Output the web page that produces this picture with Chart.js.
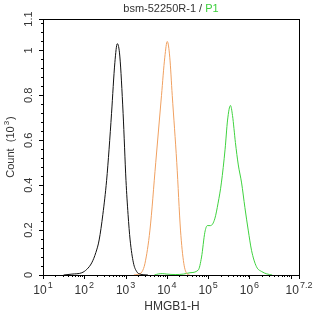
<!DOCTYPE html>
<html>
<head>
<meta charset="utf-8">
<script src="https://cdn.jsdelivr.net/npm/chart.js@4/dist/chart.umd.min.js"></script>
<style>
  html, body { margin: 0; padding: 0; background: #fff; }
  #wrap { width: 314px; height: 317px; }
</style>
</head>
<body>
<div id="wrap"><canvas id="histo"></canvas></div>
<script>
// x values are log10 of HMGB1-H intensity, y values are Count (10^3)
const blackX = [1.5, 1.7, 1.94, 2.06, 2.18, 2.28, 2.36, 2.45, 2.54, 2.6, 2.66, 2.74, 2.8, 2.86, 2.94, 3.01, 3.06, 3.11, 3.19, 3.27, 3.35, 3.54];
const blackY = [0, 0.004, 0.01, 0.025, 0.054, 0.1, 0.156, 0.27, 0.42, 0.56, 0.72, 0.945, 1.03, 0.975, 0.72, 0.42, 0.27, 0.156, 0.054, 0.015, 0.004, 0];

const orangeX = [3.2, 3.3, 3.4, 3.47, 3.59, 3.73, 3.87, 3.95, 4.01, 4.07, 4.13, 4.24, 4.33, 4.41, 4.49, 4.55];
const orangeY = [0, 0.003, 0.015, 0.052, 0.2, 0.5, 0.8, 0.97, 1.04, 0.97, 0.8, 0.5, 0.2, 0.052, 0.005, 0];

const greenX = [3.7, 3.8, 3.9, 4.0, 4.2, 4.4, 4.56, 4.76, 4.84, 4.92, 4.98, 5.06, 5.16, 5.24, 5.32, 5.41, 5.47, 5.54, 5.59, 5.66, 5.73, 5.81, 5.89, 5.97, 6.05, 6.17, 6.3, 6.42, 6.55];
const greenY = [0, 0.005, 0.006, 0.004, 0.002, 0.004, 0.01, 0.022, 0.08, 0.19, 0.22, 0.22, 0.25, 0.32, 0.41, 0.56, 0.69, 0.755, 0.71, 0.59, 0.49, 0.41, 0.3, 0.2, 0.11, 0.037, 0.015, 0.005, 0];

const xMajor = [1, 2, 3, 4, 5, 6, 7, 7.2];
const xMajorLabels = ['1', '2', '3', '4', '5', '6', '', '7.2'];
const yMajor = [0, 0.2, 0.4, 0.6, 0.8, 1, 1.14];
const yMajorLabels = ['0', '0.2', '0.4', '0.6', '0.8', '1', '1.1'];
const yMax = 1.14;

const textColor = '#333';
const fontName = '"Liberation Sans", Arial, sans-serif';

function toPoints(xs, ys) {
  return xs.map((x, i) => ({ x: x, y: ys[i] }));
}

const frame = {
  id: 'frame',
  afterDraw(chart) {
    const ctx = chart.ctx;
    const a = chart.chartArea;
    const xs = chart.scales.x;
    const ys = chart.scales.y;
    ctx.save();
    ctx.strokeStyle = '#000';
    ctx.lineWidth = 1;
    ctx.strokeRect(Math.round(a.left) + 0.5, Math.round(a.top) + 0.5, Math.round(a.right - a.left), Math.round(a.bottom - a.top));

    // x ticks: majors per decade, minors 2..9
    ctx.beginPath();
    for (let d = 1; d <= 7; d++) {
      for (let m = 1; m <= 9; m++) {
        const v = d + Math.log10(m);
        if (v > 7.2) break;
        const px = Math.round(xs.getPixelForValue(v)) + 0.5;
        const len = m === 1 ? 4 : 2;
        ctx.moveTo(px, a.bottom);
        ctx.lineTo(px, a.bottom + len);
      }
    }
    const pEnd = Math.round(xs.getPixelForValue(7.2)) + 0.5;
    ctx.moveTo(pEnd, a.bottom);
    ctx.lineTo(pEnd, a.bottom + 4);
    // y ticks every 0.04, majors every 0.2
    for (let i = 0; i * 0.04 <= yMax + 1e-9; i++) {
      const py = Math.round(ys.getPixelForValue(i * 0.04)) + 0.5;
      const len = i % 5 === 0 ? 4 : 2;
      ctx.moveTo(a.left, py);
      ctx.lineTo(a.left - len, py);
    }
    const pTop = Math.round(ys.getPixelForValue(yMax)) + 0.5;
    ctx.moveTo(a.left, pTop);
    ctx.lineTo(a.left - 4, pTop);
    ctx.stroke();

    // x tick labels
    ctx.fillStyle = textColor;
    ctx.textBaseline = 'alphabetic';
    xMajor.forEach((v, i) => {
      if (!xMajorLabels[i]) return;
      const px = xs.getPixelForValue(v);
      ctx.font = '12px ' + fontName;
      const wBase = ctx.measureText('10').width;
      ctx.font = '9px ' + fontName;
      const wExp = ctx.measureText(xMajorLabels[i]).width;
      let left = px - (wBase + wExp + 1) / 2;
      if (left + wBase + wExp + 1 > 313) left = 313 - wBase - wExp - 1;
      ctx.textAlign = 'left';
      ctx.font = '12px ' + fontName;
      ctx.fillText('10', left, a.bottom + 19);
      ctx.font = '9px ' + fontName;
      ctx.fillText(xMajorLabels[i], left + wBase + 1, a.bottom + 13);
    });

    // y tick labels, rotated
    ctx.font = '11px ' + fontName;
    ctx.textAlign = 'center';
    ctx.textBaseline = 'middle';
    yMajor.forEach((v, i) => {
      const py = ys.getPixelForValue(v);
      ctx.save();
      ctx.translate(a.left - 14, py);
      ctx.rotate(-Math.PI / 2);
      ctx.fillText(yMajorLabels[i], 0, 0);
      ctx.restore();
    });

    // axis titles
    const cx = (a.left + a.right) / 2;
    ctx.font = '12px ' + fontName;
    ctx.textAlign = 'center';
    ctx.textBaseline = 'middle';
    ctx.fillText('HMGB1-H', cx + 1, 307);

    ctx.save();
    ctx.translate(11, (a.top + a.bottom) / 2);
    ctx.rotate(-Math.PI / 2);
    ctx.font = '11px ' + fontName;
    const t1 = 'Count  (10';
    const t2 = ')';
    const w1 = ctx.measureText(t1).width;
    ctx.font = '8px ' + fontName;
    const w3 = ctx.measureText('3').width;
    ctx.font = '11px ' + fontName;
    const w2 = ctx.measureText(t2).width;
    let x0 = -(w1 + w3 + w2 + 2) / 2;
    ctx.textAlign = 'left';
    ctx.fillText(t1, x0, 0);
    ctx.font = '8px ' + fontName;
    ctx.fillText('3', x0 + w1 + 1, -4);
    ctx.font = '11px ' + fontName;
    ctx.fillText(t2, x0 + w1 + w3 + 2, 0);
    ctx.restore();

    // title with coloured gate name
    ctx.font = '11px ' + fontName;
    ctx.textAlign = 'left';
    const s1 = 'bsm-52250R-1 / ';
    const s2 = 'P1';
    const tw = ctx.measureText(s1).width + ctx.measureText(s2).width;
    const tx = cx - tw / 2;
    ctx.fillStyle = textColor;
    ctx.fillText(s1, tx, 9);
    ctx.fillStyle = '#3ccf3c';
    ctx.fillText(s2, tx + ctx.measureText(s1).width, 9);
    ctx.restore();
  }
};

new Chart(document.getElementById('histo'), {
  type: 'scatter',
  data: {
    datasets: [{
      label: 'Control',
      data: toPoints(blackX, blackY),
      showLine: true,
      borderColor: '#111',
      borderWidth: 1,
      pointRadius: 0,
      cubicInterpolationMode: 'monotone'
    }, {
      label: 'Isotype',
      data: toPoints(orangeX, orangeY),
      showLine: true,
      borderColor: '#f0a060',
      borderWidth: 1,
      pointRadius: 0,
      cubicInterpolationMode: 'monotone'
    }, {
      label: 'HMGB1',
      data: toPoints(greenX, greenY),
      showLine: true,
      borderColor: '#3fd23f',
      borderWidth: 1,
      pointRadius: 0,
      cubicInterpolationMode: 'monotone'
    }]
  },
  options: {
    responsive: true,
    maintainAspectRatio: false,
    animation: false,
    layout: {
      padding: { top: 19, right: 15, left: 0, bottom: 0 }
    },
    plugins: {
      legend: { display: false },
      tooltip: { enabled: false }
    },
    scales: {
      x: {
        type: 'linear',
        min: 1,
        max: 7.2,
        grid: { display: false },
        border: { display: false },
        ticks: { display: false },
        afterFit: (scale) => { scale.height = 42; }
      },
      y: {
        type: 'linear',
        min: 0,
        max: yMax,
        grid: { display: false },
        border: { display: false },
        ticks: { display: false },
        afterFit: (scale) => { scale.width = 43; }
      }
    }
  },
  plugins: [frame]
});
</script>
</body>
</html>
